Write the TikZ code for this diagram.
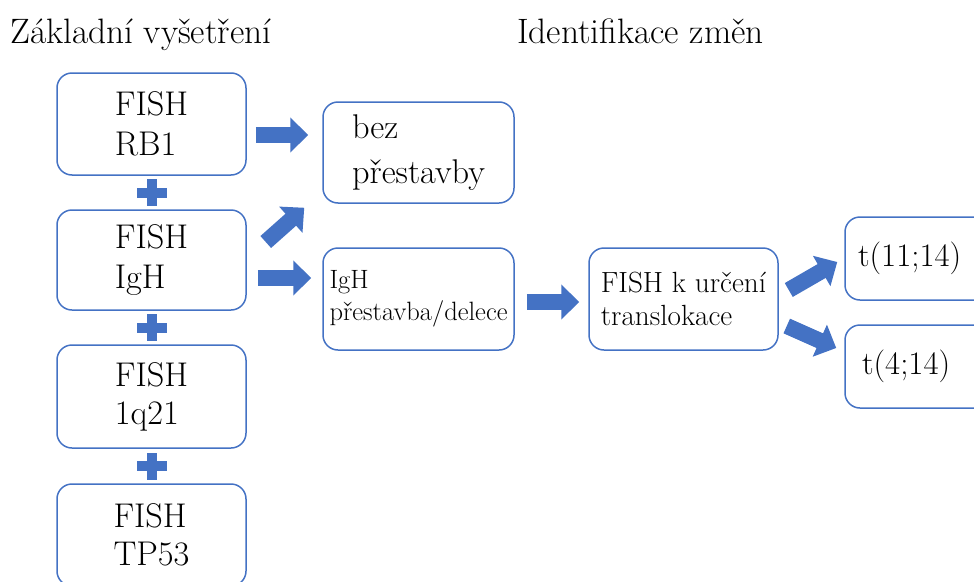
\documentclass[tikz,border=0pt]{standalone}
\usetikzlibrary{arrows.meta,calc}
\definecolor{ob}{HTML}{4472C4}
\newcommand\plussign[1]{%
  \fill[ob] ($(#1)+(-15,-5)$) rectangle ($(#1)+(15,5)$);
  \fill[ob] ($(#1)+(-5,-13.5)$) rectangle ($(#1)+(5,13.5)$);}
\begin{document}
\begin{tikzpicture}[x=1pt,y=1pt,
  box/.style={draw=ob, line width=1.5pt, rounded corners=15pt, align=left, inner sep=0pt},
  barrow/.style={draw=ob, line width=16pt, -{Triangle[width=34pt,length=18pt,fill=ob]}},
  ttl/.style={font=\fontsize{35.3}{42}\selectfont},
  big/.style={font=\fontsize{34.3}{40}\selectfont}]
\useasboundingbox (0,0) rectangle (974,-581);

% titles
\node[ttl, anchor=base west, inner sep=0pt] (title1) at (10,-43) {Základní vyšetření};
\node[ttl, anchor=base west, inner sep=0pt] (title2) at (517,-43) {Identifikace změn};

% left column
\node[box, big, minimum width=189, minimum height=102] (rb1) at (151.5,-124) {FISH\\RB1};
\node[box, big, minimum width=189, minimum height=100] (igh) at (151.5,-260) {FISH\\IgH};
\node[box, font=\fontsize{34.3}{38}\selectfont, minimum width=189, minimum height=103] (q21) at (151.5,-396.5) {FISH\\1q21};
\node[box, font=\fontsize{34.3}{38}\selectfont, minimum width=189, minimum height=102] (tp53) at (151.5,-535) {FISH\\TP53};

% plus signs
\coordinate (p1) at ($(rb1.south)!0.5!(igh.north)$);
\coordinate (p2) at ($(igh.south)!0.5!(q21.north)$);
\coordinate (p3) at ($(q21.south)!0.5!(tp53.north)$);
\plussign{p1}
\plussign{p2}
\plussign{p3}

% middle column
\node[box, font=\fontsize{34.3}{45}\selectfont, minimum width=191, minimum height=101] (bez) at (418.5,-152.5) {bez\\přestavby};
\node[box, font=\fontsize{26.5}{32}\selectfont, minimum width=191, minimum height=102] (prest) at (418.5,-299) {IgH\\přestavba/delece};
\node[box, font=\fontsize{29.2}{33}\selectfont, minimum width=189, minimum height=102] (fk) at (683.5,-299) {FISH k určení\\translokace};

% right column
\node[box, font=\fontsize{32.8}{38}\selectfont, minimum width=189, minimum height=83, inner xsep=13pt, text width=163pt] (t11) at (939.5,-258.5) {\raisebox{6pt}{t(11;14)}};
\node[box, font=\fontsize{32.8}{38}\selectfont, minimum width=189, minimum height=83, inner xsep=17pt, text width=155pt] (t4) at (939.5,-366.5) {t(4;14)};

% block arrows
\draw[barrow] ($(rb1.east)+(9,-11)$) -- ($(bez.west)+(-14,17.5)$);
\draw[barrow] ($(igh.east)+(19,18)$) -- ($(bez.south west)+(-18,-4)$);
\draw[barrow] ($(igh.east)+(11,-18)$) -- ($(prest.west)+(-11,21)$);
\draw[barrow] ($(prest.east)+(12,-3)$) -- ($(fk.west)+(-9,-3)$);
\draw[barrow] ($(fk.east)+(10,9)$) -- ($(t11.west)+(-7,-3.5)$);
\draw[barrow] ($(fk.east)+(8,-27)$) -- ($(t4.west)+(-8,18.5)$);
\end{tikzpicture}
\end{document}
